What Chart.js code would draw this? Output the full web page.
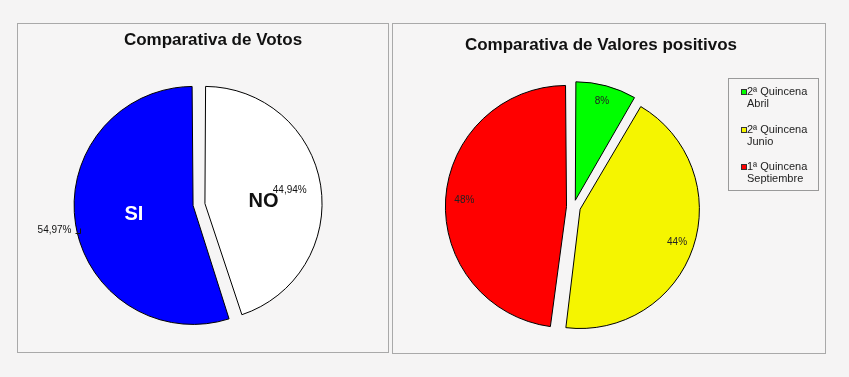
<!DOCTYPE html>
<html>
<head>
<meta charset="utf-8">
<script src="https://cdn.jsdelivr.net/npm/chart.js@4.4.0/dist/chart.umd.min.js"></script>
<style>
  body{margin:0;background:#f5f4f4;font-family:"Liberation Sans",Arial,sans-serif;}
  #page{position:relative;width:849px;height:377px;overflow:hidden;}
  .panel{position:absolute;border:1px solid #a9a9a9;box-sizing:border-box;background:#f6f5f5;}
  .wrap{position:absolute;}
  .title{position:absolute;font-weight:bold;font-size:17px;line-height:20px;color:#111;white-space:nowrap;transform:translateX(-50%);}
  #legend{position:absolute;left:728px;top:78px;width:91px;height:113px;border:1px solid #9a9a9a;box-sizing:border-box;}
  .item{position:absolute;left:18px;font-size:11px;line-height:12px;color:#222;white-space:nowrap;}
  .item i{position:absolute;left:-6px;top:4px;width:6px;height:6px;box-sizing:border-box;border:1px solid #333;}
</style>
</head>
<body>
<div id="page">
  <div class="panel" style="left:17px;top:23px;width:372px;height:330px;"></div>
  <div class="panel" style="left:392px;top:23px;width:434px;height:331px;"></div>
  <div class="wrap" style="left:17px;top:23px;width:372px;height:330px;"><canvas id="votos"></canvas></div>
  <div class="wrap" style="left:392px;top:23px;width:434px;height:331px;"><canvas id="valores"></canvas></div>
  <div class="title" id="t1" style="left:213px;top:30px;"></div>
  <div class="title" id="t2" style="left:601px;top:35px;"></div>
  <div id="legend"></div>
</div>
<script>
// ========================== DATA ==========================
const votosTitle = "Comparativa de Votos";
const votosLabels = ["NO", "SI"];
const votosValues = [44.94, 54.97];
const votosColors = ["#ffffff", "#0000ff"];

const valoresTitle = "Comparativa de Valores positivos";
const valoresLabels = [["2ª Quincena", "Abril"], ["2ª Quincena", "Junio"], ["1ª Quincena", "Septiembre"]];
const valoresValues = [8.4, 43.6, 48];   // shown rounded: 8%, 44%, 48%
const valoresColors = ["#00ff00", "#f5f500", "#ff0000"];

const FONT = '"Liberation Sans", Arial, sans-serif';

// ========================== HELPERS ==========================
function pct(v){
  return v.toFixed(2).replace(".", ",") + "%";
}

// centre of an exploded slice, as chart.js moves it (offset / 4)
function sliceGeom(arc){
  const p = arc.getProps(["x", "y", "startAngle", "endAngle", "outerRadius"], true);
  const mid = (p.startAngle + p.endAngle) / 2;
  const t = (arc.options.offset || 0) / 4;
  return { mid, cx: p.x + Math.cos(mid) * t, cy: p.y + Math.sin(mid) * t, r: p.outerRadius };
}

function at(g, f, da){
  const a = g.mid + (da || 0);
  return { x: g.cx + Math.cos(a) * g.r * f, y: g.cy + Math.sin(a) * g.r * f };
}

const baseOptions = {
  responsive: true,
  maintainAspectRatio: false,
  animation: false,
  events: [],
  plugins: { legend: { display: false }, tooltip: { enabled: false }, title: { display: false } }
};

// ========================== VOTOS ==========================
const votosLabelPlugin = {
  id: "votosLabels",
  afterDatasetsDraw(chart){
    const ctx = chart.ctx;
    const arcs = chart.getDatasetMeta(0).data;
    ctx.save();
    ctx.textBaseline = "middle";

    // NO
    let g = sliceGeom(arcs[0]);
    let p = at(g, 0.52, 0.1);
    ctx.font = "bold 20px " + FONT;
    ctx.fillStyle = "#111";
    ctx.textAlign = "center";
    ctx.fillText(votosLabels[0], p.x, p.y + 1);
    p = at(g, 0.76);
    ctx.font = "10px " + FONT;
    ctx.fillText(pct(votosValues[0]), p.x, p.y);

    // SI
    g = sliceGeom(arcs[1]);
    p = at(g, 0.53);
    ctx.font = "bold 20px " + FONT;
    ctx.fillStyle = "#ffffff";
    ctx.fillText(votosLabels[1], p.x, p.y);

    // outside label with leader
    const e = at(g, 1.0, -0.045);
    const ex = Math.round(e.x) - 1.5, ey = Math.round(e.y) + 0.5;
    ctx.strokeStyle = "#111";
    ctx.lineWidth = 1;
    ctx.beginPath();
    ctx.moveTo(ex, ey);
    ctx.lineTo(ex, ey + 5);
    ctx.lineTo(ex - 5, ey + 5);
    ctx.stroke();
    ctx.font = "10px " + FONT;
    ctx.fillStyle = "#111";
    ctx.textAlign = "right";
    ctx.fillText(pct(votosValues[1]), ex - 9, ey + 2);
    ctx.restore();
  }
};

new Chart(document.getElementById("votos"), {
  type: "pie",
  data: {
    labels: votosLabels,
    datasets: [{
      data: votosValues,
      backgroundColor: votosColors,
      borderColor: "#000",
      borderWidth: 1,
      offset: 24
    }]
  },
  options: Object.assign({}, baseOptions, {
    radius: 113,
    layout: { padding: { left: 0, right: 8, top: 33, bottom: 0 } }
  }),
  plugins: [votosLabelPlugin]
});

// ========================== VALORES ==========================
const valoresLabelPlugin = {
  id: "valoresLabels",
  afterDatasetsDraw(chart){
    const ctx = chart.ctx;
    const arcs = chart.getDatasetMeta(0).data;
    ctx.save();
    ctx.font = "10px " + FONT;
    ctx.fillStyle = "#222";
    ctx.textAlign = "center";
    ctx.textBaseline = "middle";
    arcs.forEach((arc, i) => {
      const p = at(sliceGeom(arc), 0.89);
      ctx.fillText(Math.round(valoresValues[i]) + "%", p.x, p.y);
    });
    ctx.restore();
  }
};

new Chart(document.getElementById("valores"), {
  type: "pie",
  data: {
    labels: valoresLabels,
    datasets: [{
      data: valoresValues,
      backgroundColor: valoresColors,
      borderColor: "#000",
      borderWidth: 1,
      offset: 28
    }]
  },
  options: Object.assign({}, baseOptions, {
    radius: 115,
    layout: { padding: { left: 0, right: 71, top: 37, bottom: 0 } }
  }),
  plugins: [valoresLabelPlugin]
});

// ========================== TITLES / LEGEND ==========================
document.getElementById("t1").textContent = votosTitle;
document.getElementById("t2").textContent = valoresTitle;

const legend = document.getElementById("legend");
valoresLabels.forEach((lines, i) => {
  const item = document.createElement("div");
  item.className = "item";
  item.style.top = (6 + i * 37.5) + "px";
  const box = document.createElement("i");
  box.style.background = valoresColors[i];
  item.appendChild(box);
  lines.forEach((line, k) => {
    if (k) item.appendChild(document.createElement("br"));
    item.appendChild(document.createTextNode(line));
  });
  legend.appendChild(item);
});
</script>
</body>
</html>
